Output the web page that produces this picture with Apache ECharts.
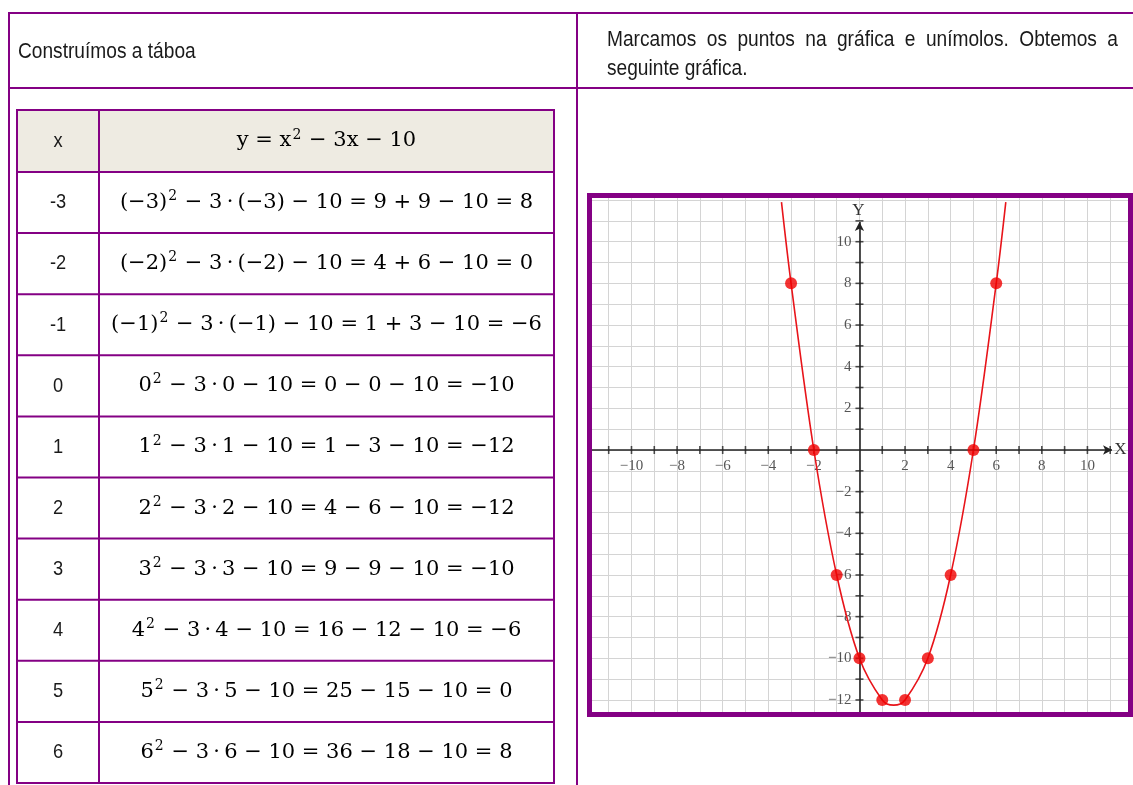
<!DOCTYPE html>
<html>
<head>
<meta charset="utf-8">
<script src="https://cdn.jsdelivr.net/npm/echarts@6/dist/echarts.min.js"></script>
<style>
  html, body { margin: 0; padding: 0; background: #fff; }
  #main { width: 1133px; height: 785px; }
</style>
</head>
<body>
<div id="main"></div>
<script>
// Table of values for y = x² − 3x − 10
const xValues = [-3, -2, -1, 0, 1, 2, 3, 4, 5, 6];
const yValues = [8, 0, -6, -10, -12, -12, -10, -6, 0, 8];
const xCellLabels = ['-3', '-2', '-1', '0', '1', '2', '3', '4', '5', '6'];
const rowExprs = [
  '(−3)² − 3·(−3) − 10 = 9 + 9 − 10',
  '(−2)² − 3·(−2) − 10 = 4 + 6 − 10',
  '(−1)² − 3·(−1) − 10 = 1 + 3 − 10',
  '0² − 3·0 − 10 = 0 − 0 − 10',
  '1² − 3·1 − 10 = 1 − 3 − 10',
  '2² − 3·2 − 10 = 4 − 6 − 10',
  '3² − 3·3 − 10 = 9 − 9 − 10',
  '4² − 3·4 − 10 = 16 − 12 − 10',
  '5² − 3·5 − 10 = 25 − 15 − 10',
  '6² − 3·6 − 10 = 36 − 18 − 10'
];
// Points along the drawn parabola (ends where it leaves the plot, and the vertex)
const curveX = [-3.42, -3, -2, -1, 0, 1, 1.5, 2, 3, 4, 5, 6, 6.42];
const curveY = [11.9, 8, 0, -6, -10, -12, -12.25, -12, -10, -6, 0, 8, 11.9];
// Axis ticks and labels
const xTickValues = [-11, -10, -9, -8, -7, -6, -5, -4, -3, -2, -1, 1, 2, 3, 4, 5, 6, 7, 8, 9, 10, 11];
const yTickValues = [-12, -11, -10, -9, -8, -7, -6, -5, -4, -3, -2, -1, 1, 2, 3, 4, 5, 6, 7, 8, 9, 10, 11];
const xLabelValues = [-10, -8, -6, -4, -2, 2, 4, 6, 8, 10];
const yLabelValues = [-12, -10, -8, -6, -4, -2, 2, 4, 6, 8, 10];

const PURPLE = '#840084';
const RED = '#f00000';
const SANS = '"Liberation Sans", Arial, sans-serif';
const MATH = '"DejaVu Serif", "Liberation Serif", serif';
const AXISFONT = '"Liberation Serif", "Times New Roman", serif';
const NARROW = 0.87;   // horizontal squeeze giving a narrow sans face

function fmtNum(v) { return v < 0 ? '−' + Math.abs(v) : String(v); }

// formula string -> rich text with raised exponents and spaced product dots
function richExpr(s) {
  return s.split('²')
    .map(p => (p ? '{m|' + p.replace(/·/g, '\u2009·\u2009') + '}' : ''))
    .join('{s|2}');
}
const mathRich = {
  m: { fontFamily: MATH, fontSize: 21, lineHeight: 26, color: '#1a1a1a', verticalAlign: 'middle' },
  s: { fontFamily: MATH, fontSize: 14, lineHeight: 16, color: '#1a1a1a', verticalAlign: 'top', padding: [0, 1, 0, 1] }
};

const chart = echarts.init(document.getElementById('main'), null, { renderer: 'canvas' });

// --- document table drawn as graphic elements ---
const graphics = [];
function hline(x1, x2, y, w) {
  graphics.push({ type: 'line', silent: true, shape: { x1: x1, y1: y, x2: x2, y2: y },
    style: { stroke: PURPLE, lineWidth: w } });
}
function vline(x, y1, y2, w) {
  graphics.push({ type: 'line', silent: true, shape: { x1: x, y1: y1, x2: x, y2: y2 },
    style: { stroke: PURPLE, lineWidth: w } });
}
function sansText(str, x, y, size, align) {
  graphics.push({ type: 'text', silent: true, x: x, y: y, scaleX: NARROW,
    style: { text: str, x: 0, y: 0, font: size + 'px ' + SANS, fill: '#1a1a1a',
      align: align || 'left', textAlign: align || 'left',
      verticalAlign: 'middle', textVerticalAlign: 'middle' } });
}
function mathText(str, x, y) {
  graphics.push({ type: 'text', silent: true,
    style: { text: richExpr(str), x: x, y: y, rich: mathRich,
      align: 'center', textAlign: 'center', verticalAlign: 'middle', textVerticalAlign: 'middle' } });
}

// outer frame of the layout table
hline(9, 1133, 13, 2);
hline(9, 1133, 88, 2);
vline(9, 12, 785, 2);
vline(577, 12, 785, 2);

const HEAD = 22;
sansText('Construímos a táboa', 18, 52, HEAD);

// justified first line of the right heading
(function () {
  const line1 = 'Marcamos os puntos na gráfica e unímolos. Obtemos a'.split(' ');
  const ctx = document.createElement('canvas').getContext('2d');
  ctx.font = HEAD + 'px ' + SANS;
  const left = 607, right = 1118;
  const widths = line1.map(w => ctx.measureText(w).width * NARROW);
  const total = widths.reduce((a, b) => a + b, 0);
  const gap = (right - left - total) / (line1.length - 1);
  let x = left;
  line1.forEach((w, i) => { sansText(w, x, 40, HEAD); x += widths[i] + gap; });
  sansText('seguinte gráfica.', left, 69, HEAD);
})();

// inner value table
const tLeft = 17, tRight = 554, tMid = 99, tTop = 110, headBottom = 172, rowH = 61.1;
graphics.push({ type: 'rect', silent: true, shape: { x: tLeft, y: tTop, width: tRight - tLeft, height: headBottom - tTop },
  style: { fill: '#eeebe2' } });
const tBottom = headBottom + rowH * xValues.length;
hline(tLeft - 1, tRight + 1, tTop, 2);
hline(tLeft - 1, tRight + 1, headBottom, 2);
for (let i = 1; i <= xValues.length; i++) hline(tLeft - 1, tRight + 1, headBottom + rowH * i, 2);
vline(tLeft, tTop, tBottom, 2);
vline(tRight, tTop, tBottom, 2);
vline(tMid, tTop, tBottom, 2);

const CELL = 21;
const colA = (tLeft + tMid) / 2, colB = (tMid + tRight) / 2;
sansText('x', colA, (tTop + headBottom) / 2, CELL, 'center');
mathText('y = x² − 3x − 10', colB, (tTop + headBottom) / 2);
xValues.forEach((xv, i) => {
  const cy = headBottom + rowH * (i + 0.5);
  sansText(xCellLabels[i], colA, cy, CELL, 'center');
  mathText(rowExprs[i] + ' = ' + fmtNum(yValues[i]), colB, cy);
});

// white margin around the plot frame and the purple frame itself
const cover = { fill: '#fff' };
graphics.push({ type: 'rect', silent: true, z: 100, shape: { x: 579, y: 150, width: 560, height: 43 }, style: cover });
graphics.push({ type: 'rect', silent: true, z: 100, shape: { x: 579, y: 717, width: 560, height: 40 }, style: cover });
graphics.push({ type: 'rect', silent: true, z: 100, shape: { x: 579, y: 150, width: 8, height: 600 }, style: cover });
graphics.push({ type: 'rect', silent: true, z: 101, shape: { x: 589.5, y: 195.5, width: 541, height: 519 },
  style: { fill: 'none', stroke: PURPLE, lineWidth: 5 } });

// --- the plot ---
const unitX = 22.9, unitY = 20.83, originX = 860.7, originY = 450;
const xMin = -12, xMax = 12, yMin = -13, yMax = 13;
const axisLabelStyle = { fontFamily: AXISFONT, fontSize: 15, color: '#2a2a2a' };

const option = {
  animation: false,
  backgroundColor: '#fff',
  grid: {
    left: originX + xMin * unitX,
    top: originY - yMax * unitY,
    width: (xMax - xMin) * unitX,
    height: (yMax - yMin) * unitY,
    containLabel: false
  },
  xAxis: {
    type: 'value', min: xMin, max: xMax, interval: 1,
    axisLine: { show: false }, axisTick: { show: false }, axisLabel: { show: false },
    splitLine: { show: true, lineStyle: { color: '#d4d4d4', width: 1 } }
  },
  yAxis: {
    type: 'value', min: yMin, max: yMax, interval: 1,
    axisLine: { show: false }, axisTick: { show: false }, axisLabel: { show: false },
    splitLine: { show: true, lineStyle: { color: '#d4d4d4', width: 1 } }
  },
  series: [
    {
      // coordinate axes with arrow heads and their names
      type: 'scatter', name: 'axes', data: [], silent: true,
      markLine: {
        silent: true, symbol: ['none', 'arrow'], symbolSize: [7, 9],
        label: { show: false },
        lineStyle: { color: '#222', width: 1.6, type: 'solid' },
        data: [
          [{ coord: [xMin, 0] }, { coord: [11.08, 0] }],
          [{ coord: [0, yMin] }, { coord: [0, 10.95] }]
        ]
      },
      markPoint: {
        silent: true, symbol: 'circle', symbolSize: 0,
        label: { show: true, fontFamily: AXISFONT, fontSize: 17, color: '#333', position: 'inside' },
        data: [
          { coord: [11.45, 0], value: 'X', label: { formatter: 'X' } },
          { coord: [-0.05, 11.5], value: 'Y', label: { formatter: 'Y' } }
        ]
      },
      z: 3
    },
    {
      type: 'scatter', name: 'xticks', silent: true, symbol: 'rect', symbolSize: [1.6, 8],
      itemStyle: { color: '#222' }, z: 3,
      data: xTickValues.map(v => [v, 0])
    },
    {
      type: 'scatter', name: 'yticks', silent: true, symbol: 'rect', symbolSize: [8, 1.6],
      itemStyle: { color: '#222' }, z: 3,
      data: yTickValues.map(v => [0, v])
    },
    {
      type: 'scatter', name: 'xlabels', silent: true, symbolSize: 0, z: 3,
      label: Object.assign({ show: true, position: 'bottom', distance: 9,
        formatter: p => fmtNum(p.value[0]) }, axisLabelStyle),
      data: xLabelValues.map(v => [v, 0])
    },
    {
      type: 'scatter', name: 'ylabels', silent: true, symbolSize: 0, z: 3,
      label: Object.assign({ show: true, position: 'left', distance: 8,
        formatter: p => fmtNum(p.value[1]) }, axisLabelStyle),
      data: yLabelValues.map(v => [0, v])
    },
    {
      type: 'line', name: 'curve', smooth: 0.35, showSymbol: false, silent: true,
      lineStyle: { color: '#e8141a', width: 1.6 }, z: 4,
      data: curveX.map((x, i) => [x, curveY[i]])
    },
    {
      type: 'scatter', name: 'points', symbol: 'circle', symbolSize: 12,
      itemStyle: { color: RED }, z: 5,
      data: xValues.map((x, i) => [x, yValues[i]])
    }
  ],
  graphic: { elements: graphics }
};

chart.setOption(option);
</script>
</body>
</html>
